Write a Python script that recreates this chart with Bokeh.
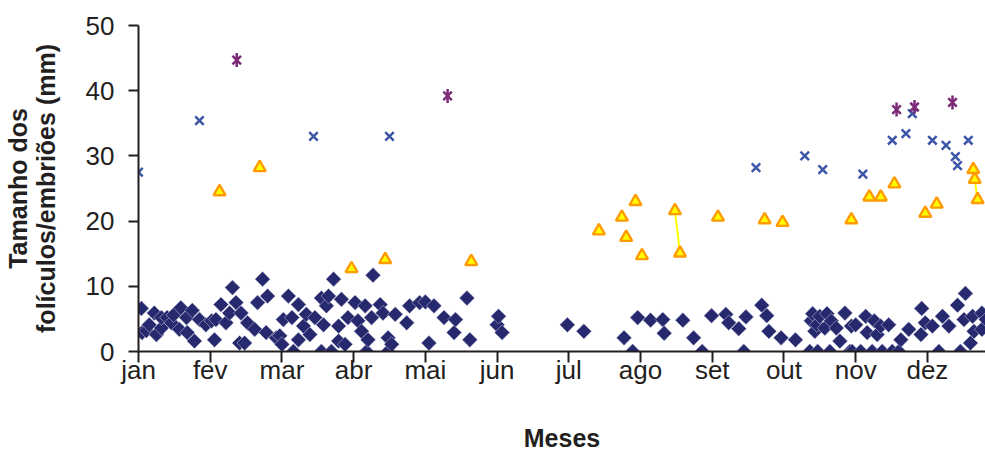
import math
from bokeh.plotting import figure
from bokeh.models import Range1d, FixedTicker
from bokeh.embed import file_html
from bokeh.resources import INLINE

# x positions are in month units (0 = jan tick, 1 = fev tick, ...)
months = ["jan", "fev", "mar", "abr", "mai", "jun", "jul", "ago", "set", "out", "nov", "dez"]

# small follicles (diamonds)
dia_x = [0.04, 0.05, 0.11, 0.15, 0.22, 0.25, 0.32, 0.32, 0.40, 0.46, 0.49, 0.57, 0.59, 0.67, 0.68,
         0.75, 0.78, 0.85, 0.94, 1.02, 1.06, 1.08, 1.15, 1.22, 1.27, 1.31, 1.36, 1.41, 1.43, 1.48,
         1.52, 1.62, 1.66, 1.73, 1.78, 1.80, 1.92, 1.97, 2.00, 2.02, 2.09, 2.14, 2.16, 2.23, 2.23,
         2.30, 2.34, 2.39, 2.46, 2.55, 2.55, 2.58, 2.62, 2.65, 2.69, 2.72, 2.79, 2.79, 2.83, 2.88,
         2.92, 3.02, 3.06, 3.11, 3.16, 3.18, 3.20, 3.25, 3.27, 3.37, 3.41, 3.48, 3.48, 3.53, 3.58,
         3.74, 3.78, 3.92, 4.00, 4.05, 4.12, 4.26, 4.40, 4.42, 4.58, 4.62, 5.00, 5.02, 5.07, 5.98,
         6.21, 6.77, 6.89, 6.96, 7.14, 7.31, 7.33, 7.59, 7.74, 7.86, 7.99, 8.19, 8.23, 8.37, 8.44,
         8.47, 8.69, 8.76, 8.79, 8.96, 9.16, 9.36, 9.38, 9.40, 9.43, 9.46, 9.47, 9.50, 9.57, 9.60,
         9.64, 9.66, 9.73, 9.78, 9.85, 9.92, 9.94, 9.95, 10.00, 10.07, 10.14, 10.16, 10.23, 10.26,
         10.30, 10.35, 10.37, 10.46, 10.51, 10.60, 10.63, 10.74, 10.91, 10.92, 10.97, 11.07, 11.16,
         11.21, 11.30, 11.42, 11.46, 11.51, 11.53, 11.60, 11.63, 11.65, 11.76, 11.76, 11.82]
dia_y = [6.6, 2.9, 3.2, 4.1, 5.9, 2.6, 3.6, 5.2, 5.2, 4.4, 5.6, 3.4, 6.7, 5.2, 2.9,
         6.3, 1.6, 4.9, 4.1, 4.7, 1.8, 4.9, 7.2, 4.4, 5.9, 9.8, 7.5, 1.3, 5.9, 1.3,
         4.4, 3.4, 7.5, 11.1, 2.9, 8.5, 2.1, 2.4, 1.1, 4.9, 8.5, 5.2, 0.0, 7.2, 1.8,
         3.9, 5.7, 2.6, 5.2, 8.2, 0.0, 4.1, 7.0, 8.5, 0.0, 11.1, 3.9, 1.6, 8.0, 1.1,
         5.2, 7.5, 4.7, 3.1, 7.0, 0.0, 1.8, 5.2, 11.7, 7.2, 5.9, 2.1, 0.0, 1.1, 5.7,
         4.4, 7.0, 7.5, 7.6, 1.3, 7.0, 5.2, 2.9, 4.9, 8.2, 1.8, 4.1, 5.4, 2.9, 4.1,
         3.1, 2.1, 0.0, 5.2, 4.8, 4.9, 2.8, 4.8, 2.1, 0.0, 5.5, 5.7, 4.4, 3.5, 0.0,
         5.3, 7.1, 5.5, 3.1, 2.1, 1.8, 0.0, 4.7, 5.8, 3.1, 4.1, 0.0, 5.4, 3.6, 5.8,
         0.0, 4.7, 3.6, 1.6, 5.9, 0.0, 3.9, 0.0, 4.1, 0.0, 5.4, 2.9, 0.0, 4.7,
         2.6, 3.9, 0.0, 4.1, 0.0, 0.0, 1.8, 3.4, 2.6, 6.6, 4.4, 3.9, 0.0,
         5.4, 3.9, 7.1, 0.0, 4.9, 8.9, 1.3, 5.4, 3.1, 5.9, 3.4, 4.9]

# medium follicles (triangles)
tri_x = [1.13, 1.69, 2.97, 3.44, 4.64, 6.42, 6.74, 6.80, 6.93, 7.02, 7.48, 7.55, 8.08, 8.73,
         8.98, 9.94, 10.19, 10.35, 10.54, 10.97, 11.13, 11.64, 11.66, 11.70]
tri_y = [24.5, 28.2, 12.7, 14.1, 13.8, 18.5, 20.6, 17.5, 23.0, 14.7, 21.6, 15.1, 20.6, 20.2,
         19.8, 20.2, 23.7, 23.7, 25.7, 21.2, 22.6, 27.9, 26.4, 23.3]
# triangles measured on the same occasion (joined by a line)
tri_groups = [[10, 11], [21, 22, 23]]

# large follicles (x)
x_x = [0.00, 0.85, 2.44, 3.50, 8.61, 9.29, 9.54, 10.10, 10.51, 10.70, 10.79, 11.07, 11.26,
       11.39, 11.42, 11.57]
x_y = [27.5, 35.4, 33.0, 33.0, 28.2, 30.0, 27.9, 27.2, 32.4, 33.4, 36.5, 32.4, 31.6,
       29.9, 28.5, 32.4]

# embryos (asterisks)
ast_x = [1.37, 4.31, 10.57, 10.82, 11.35]
ast_y = [44.7, 39.2, 37.1, 37.5, 38.2]

FONT = "Liberation Sans"

p = figure(width=985, height=455, output_backend="svg", toolbar_location=None,
           x_range=Range1d(0, 11.81), y_range=Range1d(0, 50),
           min_border_left=137, min_border_top=25, min_border_bottom=104, min_border_right=0)
p.outline_line_color = None
p.xgrid.grid_line_color = None
p.ygrid.grid_line_color = None
p.background_fill_color = "white"
p.border_fill_color = "white"

for g in tri_groups:
    p.line([tri_x[i] for i in g], [tri_y[i] for i in g], line_color="#ffff00", line_width=2)

p.scatter(dia_x, dia_y, marker="square", angle=math.pi / 4, size=10.8,
          fill_color="#27296f", line_color="#d0d0e4", line_width=0.5)
p.scatter(tri_x, tri_y, marker="triangle", size=12, fill_color="#ffff00",
          line_color="#ff9a00", line_width=2.4)
p.scatter(x_x, x_y, marker="x", size=12, line_color="#3d56a8", line_width=2.5)
p.scatter(ast_x, ast_y, marker="x", size=12, line_color="#7b2a78", line_width=2.5)
p.scatter(ast_x, ast_y, marker="dash", angle=math.pi / 2, size=14, line_color="#7b2a78", line_width=2.5)

for ax in (p.xaxis[0], p.yaxis[0]):
    ax.axis_line_color = "#231f20"
    ax.axis_line_width = 2
    ax.major_tick_line_color = "#231f20"
    ax.major_tick_line_width = 2
    ax.minor_tick_line_color = None
    ax.major_tick_in = 0
    ax.major_label_text_font = FONT
    ax.major_label_text_font_size = "26px"
    ax.major_label_text_color = "#231f20"
    ax.axis_label_text_font = FONT
    ax.axis_label_text_font_style = "bold"
    ax.axis_label_text_font_size = "25px"
    ax.axis_label_text_line_height = 1.0
    ax.axis_label_text_color = "#231f20"

p.xaxis.ticker = FixedTicker(ticks=list(range(12)))
p.xaxis.major_label_overrides = {i: m for i, m in enumerate(months)}
p.xaxis.major_tick_out = 11
p.xaxis.major_label_standoff = -8
p.xaxis.axis_label = "Meses"
p.xaxis.axis_label_standoff = 36

p.yaxis.ticker = FixedTicker(ticks=[0, 10, 20, 30, 40, 50])
p.yaxis.major_tick_out = 10
p.yaxis.major_label_standoff = 14
p.yaxis.axis_label = "Tamanho dos\nfolículos/embriões (mm)"
p.yaxis.axis_label_standoff = 23

open("out.html", "w").write(file_html(p, INLINE))
